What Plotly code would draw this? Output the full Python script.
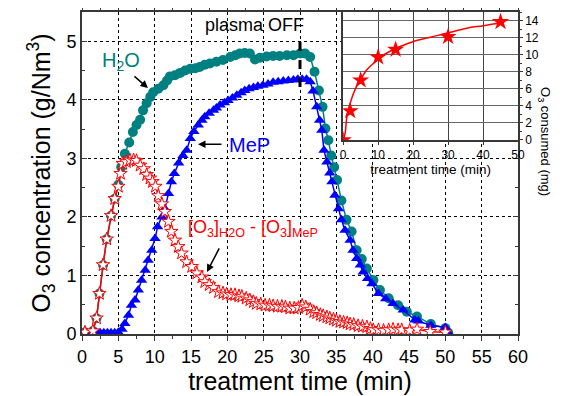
import plotly.graph_objects as go

# ---- main chart data (treatment time in min, O3 concentration in g/Nm3) ----
h2o_t = [0.4, 1.5, 2.0, 2.4, 2.9, 3.4, 4.0, 4.5, 5.0, 5.4, 5.9, 6.5, 7.0, 7.5, 8.0, 8.4, 8.9, 9.4, 9.8,
         10.5, 11.2, 11.7, 12.1, 12.8, 13.5, 14.2, 14.9, 15.6, 16.2, 16.9, 17.6, 18.5, 19.4, 20.4, 21.1,
         21.7, 22.4, 23.1, 23.8, 24.5, 25.4, 26.3, 27.2, 28.2, 29.1, 30.0, 30.7, 31.4, 32.0, 32.6, 33.1,
         33.5, 33.9, 34.3, 34.7, 35.1, 35.7, 36.4, 37.1, 37.8, 38.5, 39.2, 40.1, 41.0, 42.2, 43.5, 44.7,
         46.1, 48.0, 50.0, 50.4]
h2o_v = [0.03, 0.05, 0.27, 0.69, 1.18, 1.62, 2.02, 2.31, 2.55, 2.85, 3.08, 3.27, 3.45, 3.57, 3.66, 3.82,
         3.94, 4.05, 4.13, 4.19, 4.25, 4.33, 4.40, 4.42, 4.46, 4.50, 4.53, 4.54, 4.56, 4.60, 4.62, 4.65,
         4.68, 4.73, 4.76, 4.79, 4.80, 4.79, 4.69, 4.72, 4.74, 4.75, 4.75, 4.76, 4.76, 4.79, 4.79, 4.73,
         4.48, 4.16, 3.88, 3.51, 3.31, 3.05, 2.85, 2.63, 2.28, 1.95, 1.75, 1.43, 1.28, 1.12, 0.92, 0.75,
         0.61, 0.49, 0.38, 0.30, 0.17, 0.10, 0.02]

mep_t = [0.5, 1.5, 2.0, 2.5, 3.0, 3.5, 4.0, 4.5, 5.0, 5.5, 5.9, 6.4, 6.8, 7.3, 7.75, 8.2, 8.7, 9.1, 9.6,
         10.05, 10.4, 11.0, 11.4, 11.9, 12.3, 12.7, 13.3, 13.9, 14.4, 14.9, 15.4, 16.0, 16.5, 16.9, 17.5,
         18.1, 18.5, 19.0, 19.6, 20.1, 20.7, 21.3, 21.9, 22.4, 23.0, 23.6, 24.2, 24.9, 25.6, 26.3, 27.0,
         27.7, 28.4, 29.1, 29.7, 30.3, 30.9, 31.4, 31.8, 32.3, 32.7, 33.0, 33.3, 33.7, 34.1, 34.4, 34.8,
         35.3, 35.7, 36.2, 36.9, 37.3, 37.8, 38.3, 38.7, 39.3, 39.9, 40.8, 41.8, 42.8, 44.2, 45.8, 46.3,
         48.0, 50.0, 50.5]
mep_v = [0.02, 0.02, 0.02, 0.02, 0.02, 0.02, 0.02, 0.02, 0.03, 0.08, 0.18, 0.32, 0.49, 0.58, 0.75, 0.92,
         1.09, 1.26, 1.43, 1.63, 1.83, 2.00, 2.14, 2.40, 2.60, 2.74, 2.92, 3.05, 3.14, 3.34, 3.46, 3.57,
         3.65, 3.71, 3.77, 3.82, 3.86, 3.91, 3.95, 3.99, 4.03, 4.08, 4.12, 4.16, 4.19, 4.21, 4.23, 4.25,
         4.27, 4.30, 4.31, 4.32, 4.33, 4.34, 4.35, 4.35, 4.35, 4.31, 4.15, 3.88, 3.65, 3.48, 3.14, 2.94,
         2.75, 2.60, 2.37, 2.14, 1.95, 1.77, 1.60, 1.43, 1.29, 1.18, 1.06, 0.95, 0.86, 0.69, 0.60, 0.52,
         0.41, 0.24, 0.22, 0.15, 0.11, 0.01]

diff_t = [0.4, 1.5, 2.0, 2.4, 2.9, 3.4, 4.0, 4.5, 5.0, 5.3, 5.6, 6.1, 6.6, 7.1, 7.5, 8.0, 8.5, 8.9, 9.36,
          9.7, 10.1, 10.5, 11.0, 11.4, 11.9, 12.3, 12.8, 13.25, 13.7, 14.4, 15.1, 15.8, 16.5, 16.9, 17.5,
          18.1, 18.8, 19.4, 19.9, 20.5, 21.05, 21.6, 22.0, 22.6, 23.1, 23.6, 24.0, 24.6, 25.2, 25.8, 26.3,
          26.9, 27.5, 28.0, 28.6, 29.2, 29.8, 30.3, 30.8, 31.4, 31.9, 32.3, 32.8, 33.2, 33.7, 34.1, 34.6,
          35.0, 35.5, 36.0, 36.5, 36.9, 37.4, 38.0, 38.6, 39.2, 39.7, 40.1, 40.8, 41.5, 42.2, 42.8, 43.5,
          44.0, 45.1, 46.1, 47.9, 50.0]
diff_v = [0.03, 0.05, 0.27, 0.69, 1.18, 1.62, 2.02, 2.31, 2.52, 2.74, 2.91, 2.94, 2.97, 2.97, 2.96, 2.88,
          2.82, 2.72, 2.66, 2.60, 2.52, 2.36, 2.22, 2.09, 1.92, 1.75, 1.60, 1.49, 1.38, 1.23, 1.15, 1.04,
          0.97, 0.89, 0.84, 0.79, 0.72, 0.70, 0.68, 0.67, 0.67, 0.65, 0.64, 0.61, 0.58, 0.55, 0.52, 0.51,
          0.49, 0.49, 0.48, 0.47, 0.47, 0.46, 0.44, 0.44, 0.45, 0.49, 0.46, 0.42, 0.38, 0.36, 0.33, 0.31,
          0.29, 0.27, 0.25, 0.23, 0.21, 0.20, 0.19, 0.17, 0.16, 0.14, 0.13, 0.12, 0.09, 0.07, 0.07, 0.06,
          0.07, 0.08, 0.07, 0.07, 0.06, 0.08, 0.04, 0.03]

# ---- inset data (treatment time in min, O3 consumed in mg) ----
inset_t = [0, 2, 5, 10, 15, 30, 45]
inset_v = [0, 3.4, 7.0, 9.7, 10.6, 12.1, 13.85]
fit_t = [0, 0.57, 1.05, 2.0, 3.4, 4.9, 6.7, 8.7, 10.6, 13.4, 16.3, 20.1, 24.9, 29.6, 35.3, 40.1, 44.9]
fit_v = [0, 0.8, 2.7, 4.3, 5.9, 7.0, 8.2, 9.0, 9.7, 10.4, 10.95, 11.55, 12.05, 12.5, 13.1, 13.4, 13.75]

TEAL = "#008080"
BLUE = "#0000FF"
RED = "#FF0000"
FONT = "Liberation Sans, Arial, sans-serif"

fig = go.Figure()

fig.add_trace(go.Scatter(x=h2o_t, y=h2o_v, mode="lines+markers",
                         line=dict(color=TEAL, width=1.5),
                         marker=dict(symbol="circle", size=10, color=TEAL)))
fig.add_trace(go.Scatter(x=mep_t, y=mep_v, mode="lines+markers",
                         line=dict(color=BLUE, width=1.5),
                         marker=dict(symbol="triangle-up", size=10, color=BLUE)))
fig.add_trace(go.Scatter(x=diff_t, y=diff_v, mode="lines+markers",
                         line=dict(color=RED, width=1.5),
                         marker=dict(symbol="star", size=10, color="white",
                                     line=dict(color=RED, width=1))))

# inset
fig.add_trace(go.Scatter(x=fit_t, y=fit_v, mode="lines", xaxis="x2", yaxis="y2",
                         line=dict(color=RED, width=1.5, shape="spline")))
fig.add_trace(go.Scatter(x=inset_t, y=inset_v, mode="markers", xaxis="x2", yaxis="y2",
                         marker=dict(symbol="star", size=13, color=RED)))

axis_common = dict(showline=True, linecolor="#383838", linewidth=2, mirror="ticks",
                   zeroline=False, automargin=False,
                   tickfont=dict(size=18, color="black", family=FONT))

# the page body adds an 8px offset; figure is sized so the plot lands where the reference has it
fig.update_layout(
    width=555, height=388,
    margin=dict(l=74, r=45, t=4, b=62),
    paper_bgcolor="white", plot_bgcolor="white",
    showlegend=False,
    font=dict(family=FONT, color="black"),
    xaxis=dict(range=[0, 60], dtick=5, ticks="outside", ticklen=5, tickcolor="#383838",
               showgrid=True, gridcolor="black", griddash="dot", gridwidth=1,
               minor=dict(dtick=2.5, ticklen=3, ticks="outside", tickcolor="#383838", showgrid=False),
               title=dict(text="treatment time (min)", font=dict(size=25, family=FONT), standoff=3),
               **axis_common),
    yaxis=dict(range=[0, 5.5], dtick=1, ticks="inside", ticklen=5, tickcolor="#383838",
               showgrid=True, gridcolor="black", griddash="dot", gridwidth=1,
               minor=dict(dtick=0.5, ticklen=3, ticks="inside", tickcolor="#383838", showgrid=False),
               title=dict(text="O<sub>3</sub> concentration (g/Nm<sup>3</sup>)",
                          font=dict(size=25, family=FONT), standoff=9),
               **axis_common),
    xaxis2=dict(domain=[0.599, 1.0], anchor="y2", range=[0, 50], dtick=10, automargin=False,
                showline=True, linecolor="#383838", linewidth=1.5, mirror=True,
                ticks="outside", ticklen=3, tickcolor="#383838", zeroline=False,
                showgrid=True, gridcolor="#444444", gridwidth=1,
                tickfont=dict(size=12, family=FONT, color="black"),
                title=dict(text="treatment time (min)", font=dict(size=13.5, family=FONT), standoff=2)),
    yaxis2=dict(domain=[0.6025, 1.0], anchor="x2", side="right", range=[0, 15], dtick=2,
                automargin=False,
                showline=True, linecolor="#383838", linewidth=1.5, mirror=True,
                ticks="outside", ticklen=3, tickcolor="#383838", zeroline=False,
                showgrid=True, gridcolor="#666666", gridwidth=1,
                minor=dict(dtick=1, ticklen=2, ticks="outside", tickcolor="#383838", showgrid=False),
                tickfont=dict(size=12, family=FONT, color="black")),
)

# plasma OFF marker
fig.add_shape(type="line", xref="x", yref="y", x0=30, x1=30, y0=4.22, y1=5.08,
              line=dict(color="black", width=3, dash="dash"))

ann = [
    dict(x=23.8, y=5.27, text="plasma OFF", size=18, color="black", xanchor="center", yanchor="middle"),
    dict(x=5.4, y=4.66, text="H<sub>2</sub>O", size=20, color=TEAL, xanchor="center", yanchor="middle"),
    dict(x=23.1, y=3.22, text="MeP", size=20, color=BLUE, xanchor="center", yanchor="middle"),
    dict(x=14.3, y=2.03, text="[O<sub>3</sub>]<sub>H2O</sub> - [O<sub>3</sub>]<sub>MeP</sub>",
         size=18, color=RED, xanchor="left", yanchor="top"),
]
for a in ann:
    fig.add_annotation(xref="x", yref="y", showarrow=False, yanchor=a["yanchor"],
                       x=a["x"], y=a["y"], text=a["text"], xanchor=a["xanchor"],
                       font=dict(size=a["size"], color=a["color"], family=FONT))

arrows = [
    dict(x=9.08, y=4.2, ax=-15, ay=-13),
    dict(x=15.96, y=3.24, ax=25, ay=0),
    dict(x=17.2, y=1.06, ax=13, ay=-25),
]
for a in arrows:
    fig.add_annotation(xref="x", yref="y", text="", showarrow=True, arrowhead=2,
                       arrowsize=1, arrowwidth=1.5, arrowcolor="black", **a)

fig.add_annotation(xref="paper", yref="paper", x=1.085, y=0.773, textangle=90,
                   text="O<sub>3</sub> consumed (mg)", showarrow=False,
                   font=dict(size=13, family=FONT, color="black"))

fig.write_html("out.html")
